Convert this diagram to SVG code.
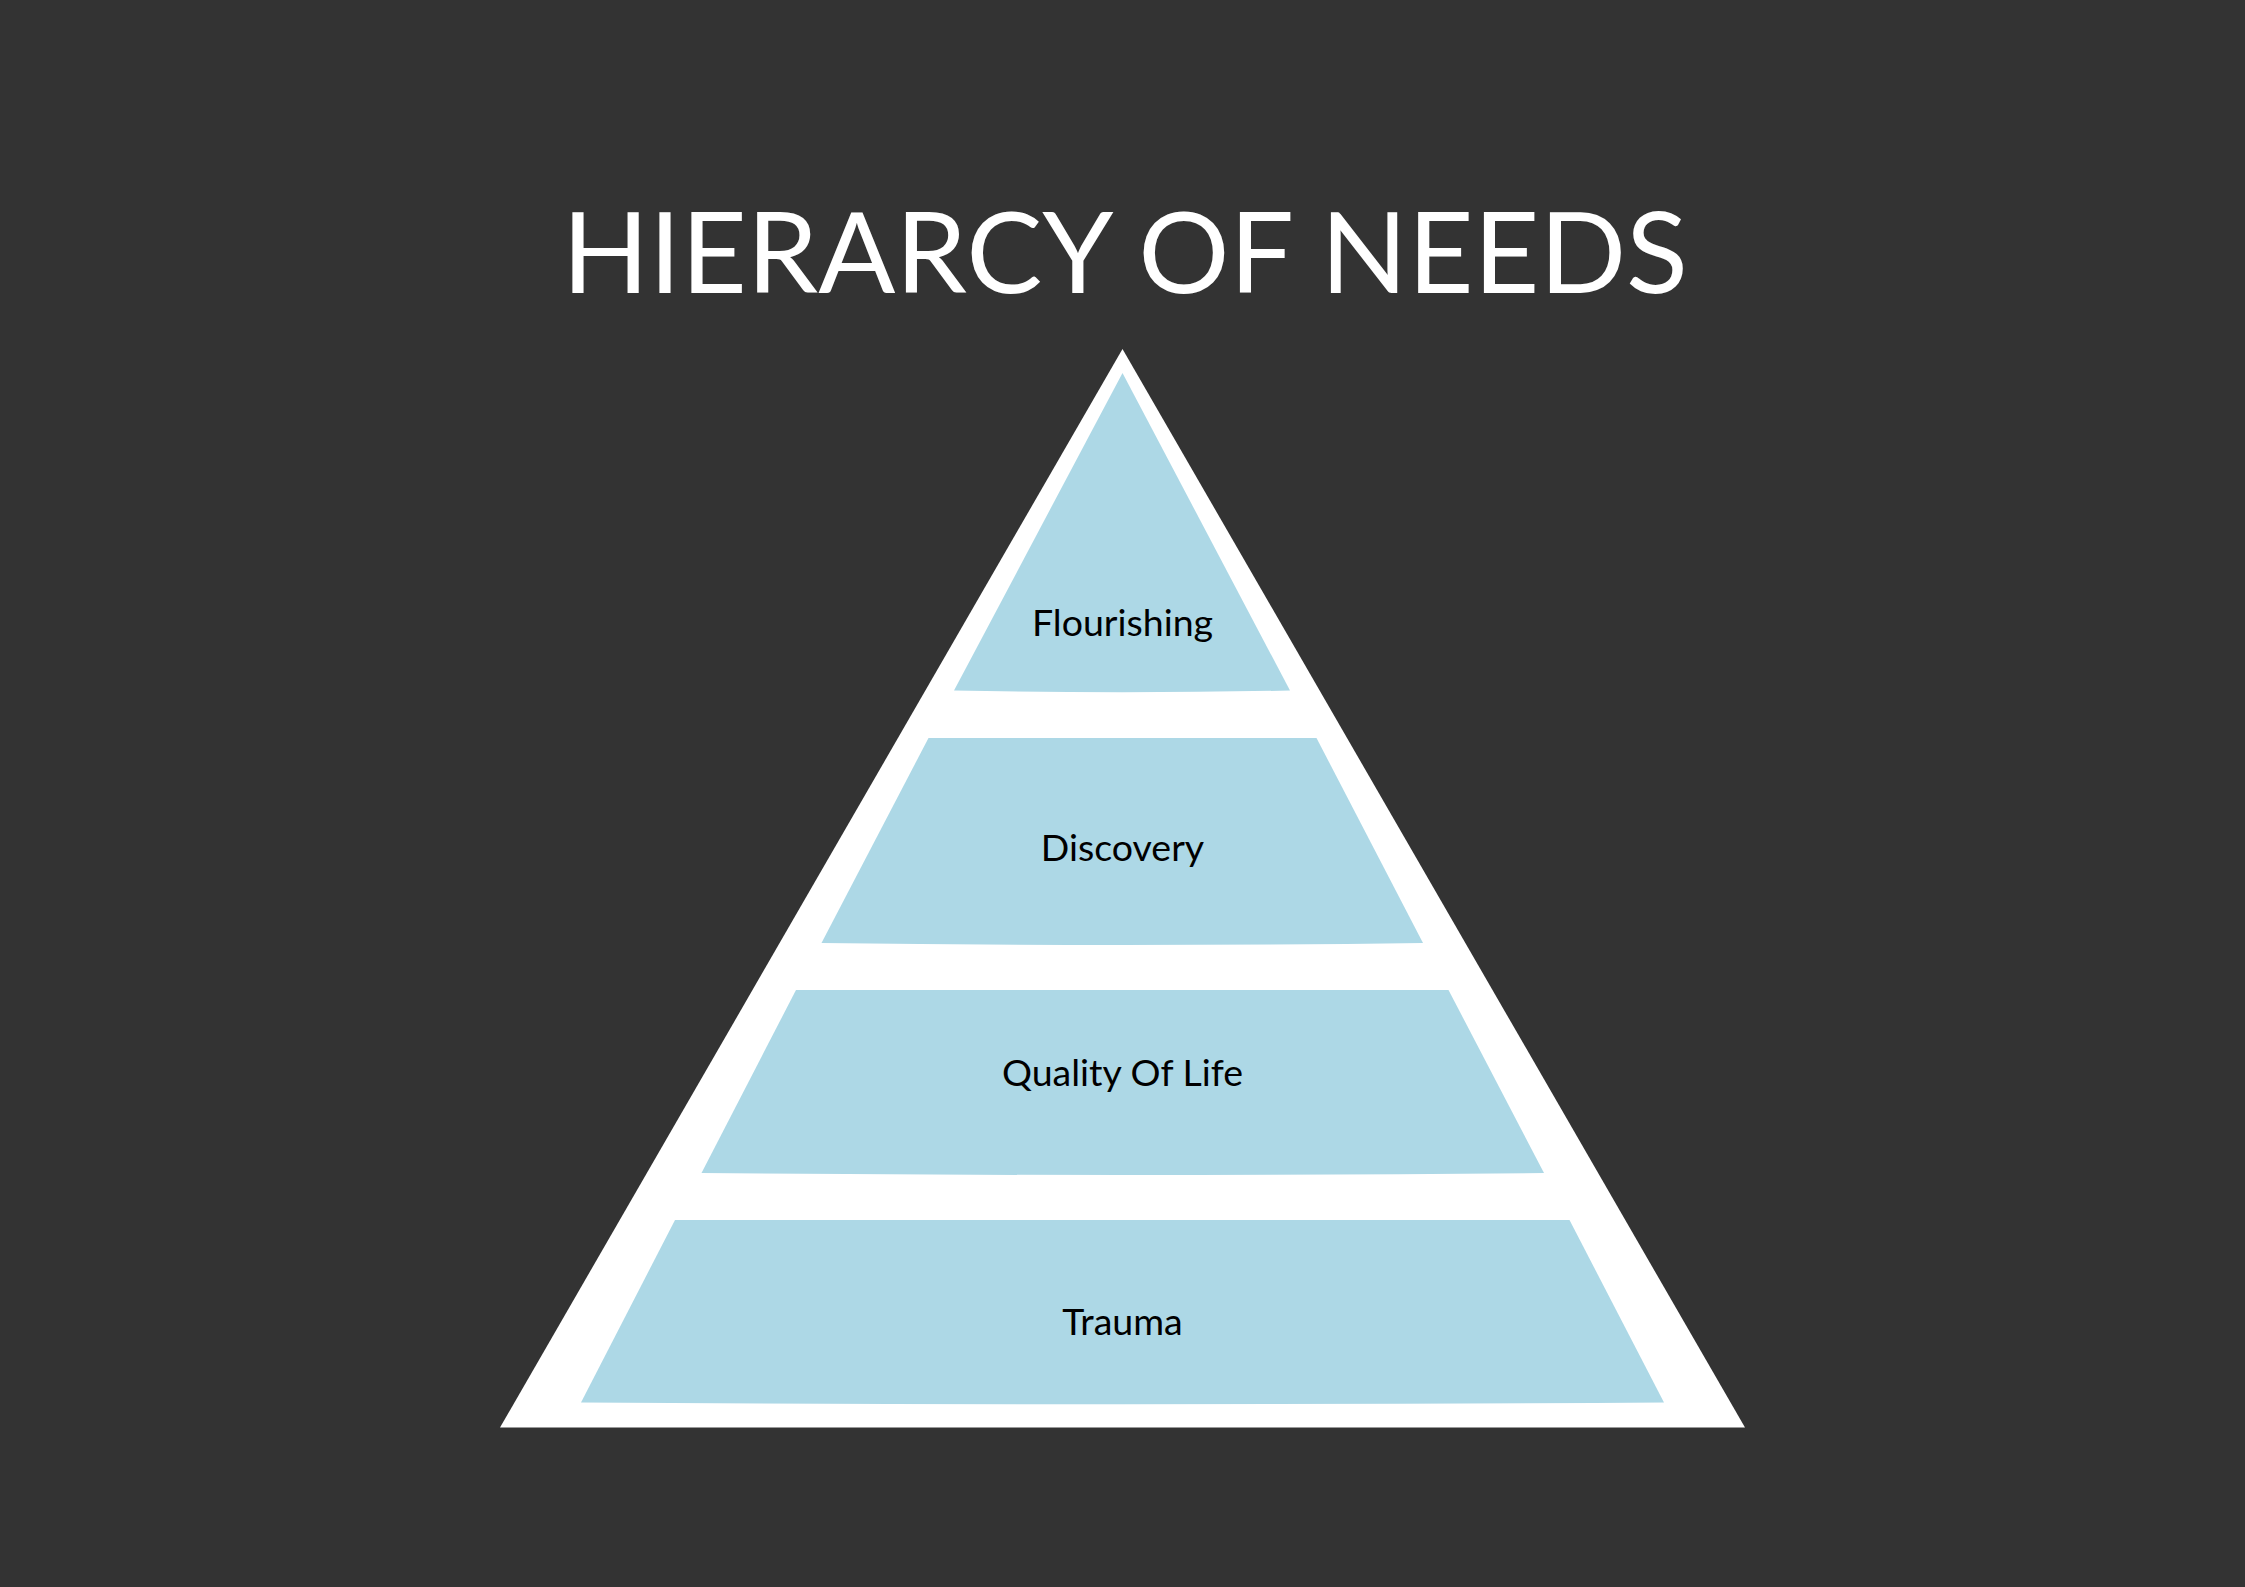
<svg xmlns="http://www.w3.org/2000/svg" width="2245" height="1587" viewBox="0 0 2245 1587">
<style>
.tier{fill:#ADD8E6;}
.lbl{font-family:Lato,"Noto Sans","DejaVu Sans",sans-serif;font-size:37.5px;fill:#000000;text-anchor:middle;}
.title{font-family:Lato,"Noto Sans","DejaVu Sans",sans-serif;font-size:112px;font-weight:400;fill:#FFFFFF;text-anchor:middle;}
</style>
<rect x="0" y="0" width="2245" height="1587" fill="#333333"/>
<g id="title"><text class="title" x="1125" y="293" textLength="1126" lengthAdjust="spacingAndGlyphs">HIERARCY OF NEEDS</text></g>
<g id="pyramid"><polygon points="1122.5,349 500,1427.5 1745,1427.5" fill="#FFFFFF"/></g>
<g id="connectors"></g>
<g id="flourishing">
<path class="tier" d="M1122.5,373 L954,690.5 Q1122.5,694 1290,690.5 Z"/>
<text class="lbl" x="1122.5" y="636">Flourishing</text>
</g>
<g id="discovery">
<path class="tier" d="M928.5,738 L1316.5,738 L1423,943 Q1122.5,947 821.5,943 Z"/>
<text class="lbl" x="1122.5" y="861">Discovery</text>
</g>
<g id="quality-of-life">
<path class="tier" d="M796,990 L1448.5,990 L1544,1173 Q1122.5,1177 701.5,1173 Z"/>
<text class="lbl" x="1122.5" y="1086">Quality Of Life</text>
</g>
<g id="trauma">
<path class="tier" d="M675,1220 L1569.5,1220 L1664,1402.5 Q1122.5,1406 581,1402.5 Z"/>
<text class="lbl" x="1122.5" y="1335">Trauma</text>
</g>
</svg>
